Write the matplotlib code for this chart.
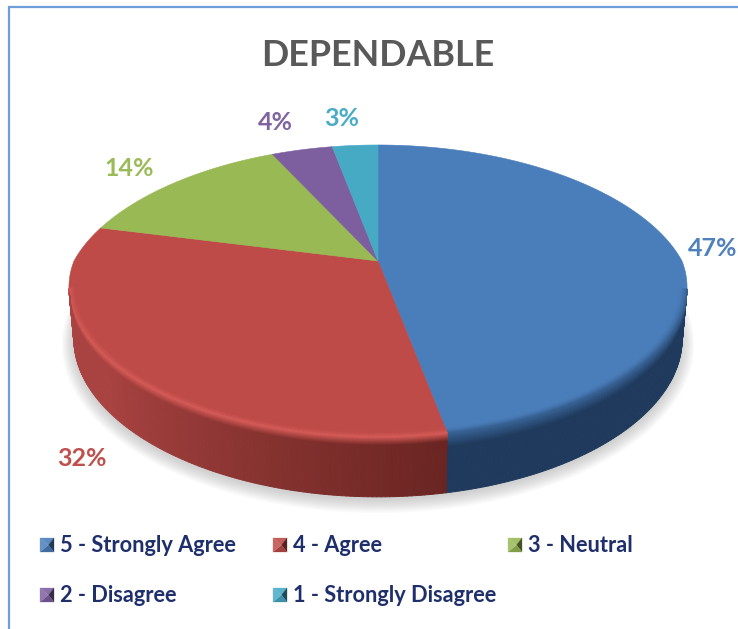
import numpy as np
import matplotlib.pyplot as plt
from matplotlib.collections import PolyCollection
from matplotlib.colors import to_rgb
from matplotlib.patches import Polygon

plt.rcParams['font.family'] = ['Lato', 'DejaVu Sans']
plt.rcParams['font.weight'] = 'bold'

title = 'DEPENDABLE'
categories = ['5 - Strongly Agree', '4 - Agree', '3 - Neutral', '2 - Disagree', '1 - Strongly Disagree']
shares = [47, 32, 14, 4, 3]
colors = ['#4a7ebb', '#be4b48', '#98b954', '#7d5fa0', '#46aac5']
wall_start = ['#1f3a5c', '#a94341', '#7a9a3c', '#5f4680', '#2f8199']
wall_end = ['#1f3550', '#6a2522', '#5a7a2c', '#4a3568', '#246679']
label_colors = ['#4f81bd', '#c0504d', '#9bbb59', '#8064a2', '#4bacc6']
label_pos = [(713, 249), (82, 458), (129, 169), (275, 122), (342, 118)]
legend_pos = [(47, 545), (280, 545), (515, 545), (47, 595), (280, 595)]

# picture geometry, pixels
cx, cy = 378, 261
a, b, k = 139.8, 304, 0.205


def project(th, r=1.0):
    # th runs clockwise from 12 o'clock, k and kx give the perspective
    u, v = r * np.sin(th), r * np.cos(th)
    kx = np.where(v > 0, 0.25, 0.18)
    return cx + b * u / (1 + kx * v), cy - a * v / (1 + k * v)


def wall_offset(th, t):
    # t=0 on the rim, t=1 on the lower edge, t<0 goes inward on the face
    if t < 0:
        return project(th, 1 + t * 0.2)
    v = np.cos(th)
    x, y = project(th)
    d = 50 - 10 * v
    return x + (cx - x) * 0.016 * t, y + d * t


def mix(c1, c2, f):
    c1, c2 = np.array(to_rgb(c1)), np.array(to_rgb(c2))
    return tuple(c1 + (c2 - c1) * f)


fig = plt.figure(figsize=(7.38, 6.29), dpi=100, facecolor='white')
ax = fig.add_axes([0, 0, 1, 1])
ax.set_xlim(0, 738)
ax.set_ylim(629, 0)
ax.axis('off')

# frame on the left and top
ax.plot([9, 9, 738], [629, 7, 7], color='#6f9fd8', lw=1.6, solid_joinstyle='miter')

# soft shadow under the pie
th_all = np.linspace(0, 2 * np.pi, 300)
sx, sy = wall_offset(th_all, 1)
for grow in np.linspace(12, 0, 13):
    px = cx + (sx - cx) * (1 + grow / 300)
    py = 300 + (sy - 300) * (1 + grow / 180) + 3
    ax.add_patch(Polygon(np.c_[px, py], closed=True, fc='#8f8f8f', ec='none', alpha=0.035, zorder=1))

edges = np.cumsum([0] + shares) / sum(shares) * 2 * np.pi

# top face
for i, col in enumerate(colors):
    th = np.linspace(edges[i], edges[i + 1], 200)
    x, y = project(th)
    ax.add_patch(Polygon(np.r_[[[cx, cy]], np.c_[x, y]], closed=True, fc=col, ec=col, lw=0.4, zorder=2))

# side wall, only the part that faces the viewer
ts = np.r_[np.linspace(-0.14, 0.26, 33), np.linspace(0.3, 1, 5)]
for i in range(len(shares)):
    th = np.arange(edges[i], edges[i + 1] + 0.012, 0.012)
    th = th[(np.cos(th) < -k + 0.02) & (th <= edges[i + 1])]
    if i == 0:
        th = np.r_[th, edges[1]]
    if len(th) < 2:
        continue
    quads, cols = [], []
    for j in range(len(th) - 1):
        if i == 1:
            # red wall darkens from the left towards the blue slice
            along = np.clip((edges[2] - th[j]) / (edges[2] - edges[1]), 0, 1)
            base = mix(wall_end[i], wall_start[i], 1 - np.clip((along - 0.45) / 0.55, 0, 1))
            hi = mix(colors[i], '#dc605c', 0.8)
            soft = 0.14
        else:
            base = to_rgb(wall_start[i])
            hi = mix(colors[i], base, 0.4)
            soft = 0.24
        for n in range(len(ts) - 1):
            t = ts[n]
            if t < 0:
                f = (t + 0.14) / 0.14
                c = mix(colors[i], hi, f * f)
            elif t < soft:
                c = mix(hi, base, t / soft)
            else:
                c = base
            x0, y0 = wall_offset(th[j], t)
            x1, y1 = wall_offset(th[j + 1], t)
            x2, y2 = wall_offset(th[j + 1], ts[n + 1])
            x3, y3 = wall_offset(th[j], ts[n + 1])
            quads.append([(x0, y0), (x1, y1), (x2, y2), (x3, y3)])
            cols.append(c)
    ax.add_collection(PolyCollection(quads, facecolors=cols, edgecolors=cols, linewidths=0.7, zorder=3))

# data labels
for share, col, pos in zip(shares, label_colors, label_pos):
    ax.text(pos[0], pos[1], f'{share}%', color=col, fontsize=18, ha='center', va='center', zorder=5)

ax.text(378, 55, title, color='#595959', fontsize=25.8, ha='center', va='center', zorder=5)

# legend with little bevelled keys
for name, col, pos in zip(categories, colors, legend_pos):
    x, y = pos
    s = 7
    corners = [(x - s, y - s), (x + s, y - s), (x + s, y + s), (x - s, y + s)]
    shades = [mix(col, 'white', 0.1), mix(col, 'black', 0.55), mix(col, 'black', 0.15), mix(col, 'white', 0.15)]
    for n in range(4):
        tip = (x + 1.5, y)
        ax.add_patch(Polygon([corners[n], corners[(n + 1) % 4], tip], closed=True, fc=shades[n], ec=shades[n], lw=0.2, zorder=5))
    ax.text(x + 13, y, name, color='#1f2f6b', fontsize=15.7, ha='left', va='center', zorder=5)

fig.savefig('out.png', dpi=100, facecolor='white')
